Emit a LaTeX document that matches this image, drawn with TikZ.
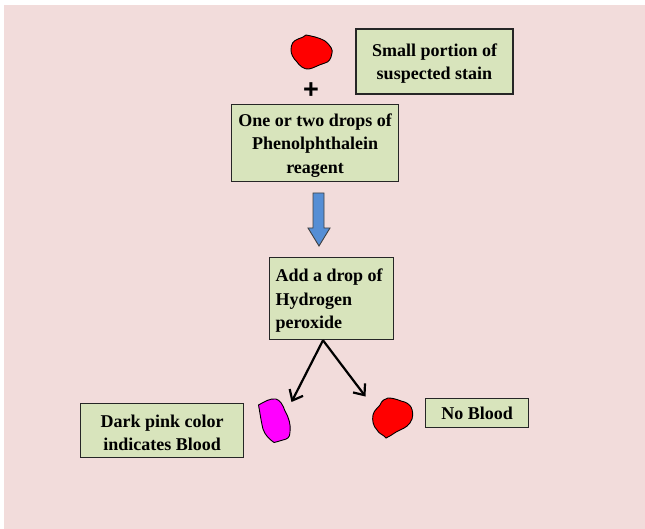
\documentclass[tikz,border=0pt]{standalone}
\usepackage{fontspec}
\setmainfont{Liberation Serif}
\newfontfamily\plusfont{Liberation Sans}
\usetikzlibrary{calc,arrows.meta}
\definecolor{pagepink}{RGB}{242,220,219}
\definecolor{boxgreen}{RGB}{216,228,188}
\definecolor{arrowblue}{RGB}{85,142,213}
\definecolor{stainred}{RGB}{255,0,0}
\definecolor{pinkstain}{RGB}{255,0,255}
\newcommand{\topgap}{\rule{0pt}{17pt}}
\tikzset{
  x=1pt,y=-1pt,
  textbox/.style={draw=black!85,line width=1.3pt,fill=boxgreen,font=\bfseries\fontsize{18}{23.5}\selectfont,text=black,inner sep=0pt,anchor=north west},
  blob/.style={draw=black,line width=0.9pt},
  flow/.style={draw=black,line width=2.2pt,-{Straight Barb[length=9pt,width=15pt,line width=2.2pt]}},
}
\begin{document}
\begin{tikzpicture}
\useasboundingbox (0,0) rectangle (645,529);
\fill[white] (0,0) rectangle (645,529);
\fill[pagepink] (4,5) rectangle (645,529);
% boxes
\node[textbox,line width=2pt,minimum width=157pt,minimum height=65pt,align=center] (stain) at (355,28) {\topgap Small portion of\\suspected stain};
\node[textbox,minimum width=167pt,minimum height=77pt,align=center] (reagent) at (231,104) {\topgap One or two drops of\\Phenolphthalein\\reagent};
\node[textbox,minimum width=124pt,minimum height=82pt,align=left] (add) at (269,257) {\topgap Add a drop of\hspace*{5pt}\\Hydrogen\\peroxide};
\node[textbox,minimum width=163pt,minimum height=54pt,align=center] (dark) at (80,403) {\topgap Dark pink color\\indicates Blood};
\node[textbox,minimum width=103pt,minimum height=29pt,align=center] (none) at (425,398) {No Blood};
% plus
\node[font=\plusfont\bfseries\fontsize{27}{27}\selectfont,inner sep=0pt] (plus) at (311,91) {+};
% blobs
\draw[blob,fill=stainred] (306,35) .. controls (311,36) and (318,37) .. (325,41) .. controls (331,46) and (333,50) .. (332,53) .. controls (331,59) and (329,62) .. (325,63) .. controls (318,65) and (314,68) .. (309,69) .. controls (304,70) and (299,65) .. (297,62) .. controls (293,58) and (291,54) .. (291,50) .. controls (291,44) and (293,41) .. (298,39) .. controls (301,38) and (304,37) .. (306,35) -- cycle;
\draw[blob,fill=pinkstain] (258.5,405) .. controls (264,402) and (270,398) .. (276,399) .. controls (280,400) and (283,405) .. (285,411) .. controls (289,418) and (291,425) .. (290,432) .. controls (290,438) and (287,439) .. (283,440) .. controls (279,441) and (277,442) .. (274,442.5) .. controls (269,439) and (265,435) .. (263,429) .. controls (261,421) and (260,413) .. (258.5,405) -- cycle;
\draw[blob,fill=stainred] (388,398) .. controls (392,398) and (396,399) .. (401,401) .. controls (406,402) and (409,404) .. (411,407) .. controls (413,411) and (413,415) .. (412,419) .. controls (410,425) and (405,428) .. (400,430) .. controls (395,432) and (391,436) .. (386,438) .. controls (384,435) and (379,434) .. (377,430) .. controls (373,426) and (372,420) .. (373,415) .. controls (374,410) and (378,408) .. (380,405) .. controls (382,400) and (385,399) .. (388,398) -- cycle;
% blue arrow
\draw[line width=0.9pt,draw=black!75,fill=arrowblue] (313,193) -- (324,193) -- (324,228) -- (330,228) -- (319,246) -- (308,228) -- (313,228) -- cycle;
% connectors
\coordinate (apex) at ($(add.south west)+(54,0)$);
\coordinate (tipl) at (291.5,402);
\coordinate (tipr) at (365.5,396.5);
\draw[flow] (apex) -- (tipl);
\draw[flow] (apex) -- (tipr);
\end{tikzpicture}
\end{document}
